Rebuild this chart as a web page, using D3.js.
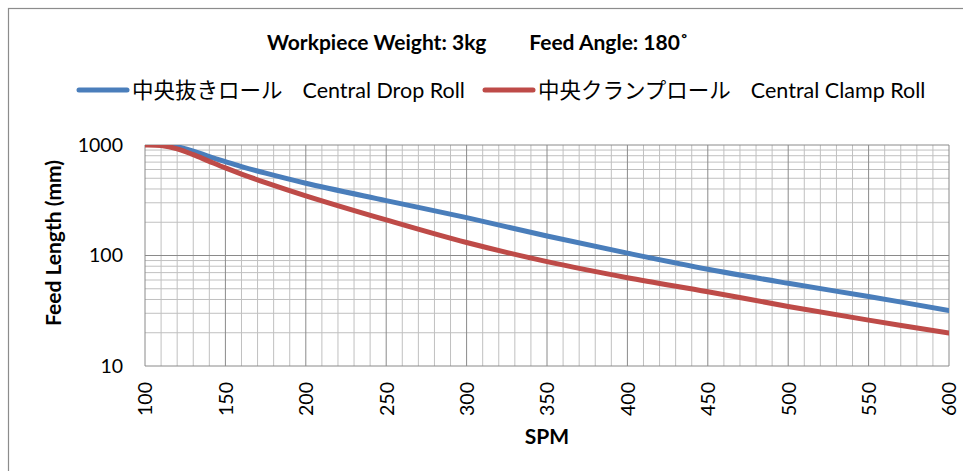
<!DOCTYPE html>
<html lang="ja">
<head>
<meta charset="UTF-8">
<title>Feed Length vs SPM</title>
<script src="https://d3js.org/d3.v7.min.js"></script>
<style>
  body { margin: 0; background: #fff; }
  text { font-family: Lato, "Noto Sans CJK JP", sans-serif; fill: #000; }
  .jp { font-family: "Noto Sans CJK JP", sans-serif; }
</style>
</head>
<body>
<div id="chart"></div>
<script>
// data
const spm = [100, 110, 120, 130, 140, 150, 160, 175, 200, 250, 300, 350, 400, 450, 500, 550, 600];
const dropRoll  = [1072, 1035, 966, 881, 785, 706, 638, 556, 451, 314, 220, 150, 105, 75, 56, 42.6, 31.8];
const clampRoll = [1000, 989, 923, 817, 711, 620, 546, 457, 347, 210, 131, 88, 63, 47, 34.6, 26, 19.9];
const xTicks = [100, 150, 200, 250, 300, 350, 400, 450, 500, 550, 600];
const yTicks = [10, 100, 1000];

const W = 963, H = 471;
const margin = { top: 145, right: 14, bottom: 105, left: 145 };

const svg = d3.select("#chart").append("svg")
    .attr("width", W).attr("height", H);

// chart frame
svg.append("rect")
    .attr("x", 8.5).attr("y", 8.5)
    .attr("width", 965).attr("height", 475)
    .attr("fill", "#fff").attr("stroke", "#8c8c8c").attr("stroke-width", 1.2);

const x = d3.scaleLinear().domain([100, 600]).range([margin.left, W - margin.right]);
const y = d3.scaleLog().domain([10, 1000]).range([H - margin.bottom, margin.top]);

// minor grid
const minorX = d3.range(110, 600, 10).filter(v => v % 50 !== 0);
const minorY = [];
[10, 100].forEach(d => { for (let k = 2; k <= 9; k++) minorY.push(d * k); });

svg.append("g").selectAll("line").data(minorX).join("line")
    .attr("x1", d => x(d)).attr("x2", d => x(d))
    .attr("y1", y(10)).attr("y2", y(1000))
    .attr("stroke", "#c0c0c0").attr("stroke-width", 1);

svg.append("g").selectAll("line").data(minorY).join("line")
    .attr("x1", x(100)).attr("x2", x(600))
    .attr("y1", d => y(d)).attr("y2", d => y(d))
    .attr("stroke", "#c0c0c0").attr("stroke-width", 1);

// major grid
svg.append("g").selectAll("line").data(xTicks).join("line")
    .attr("x1", d => x(d)).attr("x2", d => x(d))
    .attr("y1", y(10)).attr("y2", y(1000))
    .attr("stroke", "#8a8a8a").attr("stroke-width", 1);

svg.append("g").selectAll("line").data(yTicks).join("line")
    .attr("x1", x(100)).attr("x2", x(600))
    .attr("y1", d => y(d)).attr("y2", d => y(d))
    .attr("stroke", "#8a8a8a").attr("stroke-width", 1);

// axes (labels only, lines drawn by grid)
const yAxis = svg.append("g")
    .attr("transform", `translate(${x(100) - 22},0)`)
    .call(d3.axisLeft(y).tickValues(yTicks).tickFormat(d3.format("d")).tickSize(0));
yAxis.select(".domain").remove();
yAxis.selectAll("text").attr("font-size", 19.5).attr("font-family", "Lato, sans-serif").attr("x", 0);

const xAxis = svg.append("g")
    .attr("transform", `translate(0,${y(10)})`)
    .call(d3.axisBottom(x).tickValues(xTicks).tickFormat(d3.format("d")).tickSize(0));
xAxis.select(".domain").remove();
xAxis.selectAll("text")
    .attr("font-size", 19.5).attr("font-family", "Lato, sans-serif")
    .attr("transform", "rotate(-90)")
    .attr("text-anchor", "end")
    .attr("x", -16).attr("y", 0).attr("dy", "0.35em");

// clip to plot area
svg.append("clipPath").attr("id", "plot")
  .append("rect")
    .attr("x", x(100)).attr("y", y(1000))
    .attr("width", x(600) - x(100)).attr("height", y(10) - y(1000));

const series = [
  { name: "dropRoll", values: dropRoll, color: "#4a7ebb" },
  { name: "clampRoll", values: clampRoll, color: "#be4b48" }
];

const line = d3.line()
    .x((d, i) => x(spm[i]))
    .y(d => y(d))
    .curve(d3.curveCatmullRom.alpha(0.5));

svg.append("g").attr("clip-path", "url(#plot)")
  .selectAll("path").data(series).join("path")
    .attr("d", s => line(s.values))
    .attr("fill", "none")
    .attr("stroke", s => s.color)
    .attr("stroke-width", 5)
    .attr("stroke-linecap", "round");

// title
const title = svg.append("text")
    .attr("y", 50).attr("font-size", 21).attr("font-weight", "bold")
    .attr("x", 267);
title.append("tspan").text("Workpiece Weight: 3kg");
title.append("tspan").attr("dx", 43).text("Feed Angle: 180˚");

// legend
const legend = [
  { jp: "中央抜きロール", en: "Central Drop Roll", color: "#4a7ebb", x0: 79 },
  { jp: "中央クランプロール", en: "Central Clamp Roll", color: "#be4b48", x0: 485 }
];
const lg = svg.append("g").selectAll("g").data(legend).join("g")
    .attr("transform", d => `translate(${d.x0},90)`);
lg.append("line")
    .attr("x1", 0).attr("x2", 48).attr("y1", 0).attr("y2", 0)
    .attr("stroke", d => d.color).attr("stroke-width", 5).attr("stroke-linecap", "round");
const lt = lg.append("text").attr("x", 53).attr("y", 8).attr("font-size", 21.5);
lt.append("tspan").attr("class", "jp").text(d => d.jp);
lt.append("tspan").attr("dx", 20).attr("font-size", 21.5).text(d => d.en);

// axis titles
svg.append("text")
    .attr("x", x(350)).attr("y", 444)
    .attr("text-anchor", "middle").attr("font-size", 21).attr("font-weight", "bold")
    .text("SPM");

svg.append("text")
    .attr("transform", `translate(61,243) rotate(-90)`)
    .attr("text-anchor", "middle").attr("font-size", 21).attr("font-weight", "bold")
    .text("Feed Length (mm)");
</script>
</body>
</html>
